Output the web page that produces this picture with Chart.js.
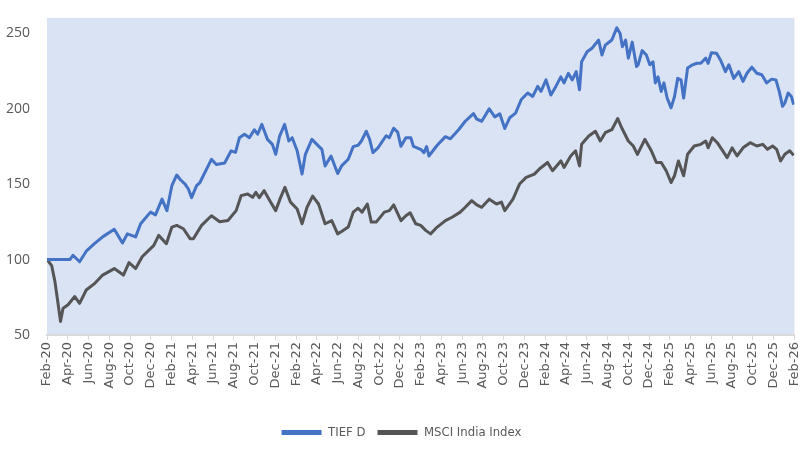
<!DOCTYPE html>
<html>
<head>
<meta charset="utf-8">
<script src="https://cdn.jsdelivr.net/npm/chart.js@4.4.1/dist/chart.umd.min.js"></script>
<style>
  html, body { margin: 0; padding: 0; background: #ffffff; }
  #wrap { width: 812px; height: 449px; }
</style>
</head>
<body>
<div id="wrap"><canvas id="perfChart" width="812" height="449"></canvas></div>
<script>
// x positions are months since Feb-20
const tickLabels = [
  "Feb-20", "Apr-20", "Jun-20", "Aug-20", "Oct-20", "Dec-20",
  "Feb-21", "Apr-21", "Jun-21", "Aug-21", "Oct-21", "Dec-21",
  "Feb-22", "Apr-22", "Jun-22", "Aug-22", "Oct-22", "Dec-22",
  "Feb-23", "Apr-23", "Jun-23", "Aug-23", "Oct-23", "Dec-23",
  "Feb-24", "Apr-24", "Jun-24", "Aug-24", "Oct-24", "Dec-24",
  "Feb-25", "Apr-25", "Jun-25", "Aug-25", "Oct-25", "Dec-25",
  "Feb-26"
];
const yTicks = [50, 100, 150, 200, 250];

const tiefMonths = [
  0, 1.24, 2.2, 2.5, 3.14, 3.78, 4.57, 5.36, 6.48, 7.27, 7.74, 8.54, 9.02, 9.97, 10.45, 11.08,
  11.55, 12.03, 12.5, 12.83, 13.3, 13.62, 13.93, 14.41, 14.73, 15.84, 16.31, 17.11, 17.74, 18.16,
  18.54, 19.02, 19.5, 19.97, 20.29, 20.7, 21.24, 21.71, 22.03, 22.41, 22.89, 23.3, 23.62, 24.1,
  24.57, 24.89, 25.52, 26.0, 26.48, 26.79, 27.36, 28.0, 28.38, 29.02, 29.5, 29.97, 30.29, 30.76,
  31.08, 31.4, 31.88, 32.67, 32.98, 33.4, 33.78, 34.1, 34.57, 35.05, 35.3, 36.0, 36.31, 36.57,
  36.79, 37.59, 38.38, 38.86, 39.65, 40.29, 41.08, 41.4, 41.88, 42.6, 43.14, 43.62, 44.1, 44.57,
  45.14, 45.69, 46.31, 46.79, 47.27, 47.59, 48.07, 48.54, 49.02, 49.5, 49.81, 50.22, 50.6, 50.98,
  51.3, 51.5, 52.03, 52.5, 53.14, 53.46, 53.78, 54.41, 54.89, 55.21, 55.43, 55.74, 56.0, 56.38,
  56.79, 56.95, 57.33, 57.74, 58.07, 58.38, 58.6, 58.86, 59.17, 59.43, 59.74, 60.12, 60.45, 60.76,
  61.08, 61.33, 61.71, 62.19, 62.6, 62.98, 63.46, 63.69, 64.0, 64.5, 64.89, 65.36, 65.69, 66.16,
  66.64, 67.05, 67.43, 67.9, 68.38, 68.86, 69.33, 69.81, 70.22, 70.54, 70.86, 71.08, 71.4, 71.71,
  71.93
];
const tiefValues = [
  100, 100, 100, 102.8, 98.5, 105.5, 110.5, 115, 120, 111, 117, 115, 123.7, 131.4, 129.6, 140,
  132.4, 149, 156, 153, 150, 146.7, 141, 149, 151, 166.4, 163, 164, 172, 171,
  180.7, 183, 180.7, 186, 183, 189.5, 179.6, 176.3, 169.7, 181.8, 189.5, 178.5, 180.7, 172,
  156.6, 169.7, 179.6, 176.3, 173, 162, 168.6, 157, 162, 166.4, 174.8, 175.7, 178.5, 185,
  179.6, 170.8, 174, 182, 180.7, 187, 184.4, 175, 180.7, 180.7, 175, 173, 170.8, 174.8,
  168.6, 175.7, 181.4, 180, 186, 191.6, 196.7, 193, 191.6, 199.8, 194.5, 196.5, 186.8, 193.9,
  197, 206, 210.3, 208, 214.7, 211.4, 219, 209, 214.7, 221, 217, 223.4, 219, 224.5,
  212.5, 231, 237.6, 240, 245.4, 235.5, 242, 245.4, 253.5, 249.8, 241, 245.4, 233.4, 244,
  227.8, 229, 238.4, 235.5, 229, 231, 217, 221, 211.4, 217, 207, 200.5, 208, 220,
  219, 207, 226.8, 229, 230, 230, 233.4, 230, 237, 236.6, 232, 224.5, 229, 220,
  224.5, 218, 223.4, 227.4, 223.4, 222.4, 217, 219.5, 219, 211.4, 201.5, 203.7, 210.3, 208,
  202.6
];

const msciMonths = [
  0, 0.45, 0.76, 1.08, 1.3, 1.55, 2.03, 2.67, 3.14, 3.78, 4.57, 5.36, 6.48, 7.36, 7.9, 8.54,
  9.17, 10.29, 10.76, 11.5, 12.03, 12.5, 13.14, 13.78, 14.1, 14.89, 15.84, 16.64, 17.43, 18.22,
  18.7, 19.33, 19.81, 20.12, 20.45, 20.92, 21.55, 22.03, 22.5, 22.92, 23.46, 24.1, 24.57, 25.05,
  25.59, 26.16, 26.79, 27.43, 28.0, 28.38, 29.02, 29.5, 29.97, 30.35, 30.86, 31.24, 31.71, 32.5,
  32.98, 33.4, 34.1, 34.57, 34.98, 35.52, 36.0, 36.48, 36.95, 37.59, 38.38, 39.02, 39.81, 40.29,
  40.92, 41.4, 41.88, 42.6, 43.3, 43.78, 44.1, 44.89, 45.52, 46.16, 46.95, 47.43, 48.22, 48.7,
  49.5, 49.81, 50.45, 50.92, 51.3, 51.5, 52.19, 52.83, 53.3, 53.78, 54.41, 54.98, 55.36, 56.0,
  56.48, 56.88, 57.59, 58.22, 58.7, 59.17, 59.65, 60.12, 60.45, 60.83, 61.33, 61.71, 62.35, 62.98,
  63.46, 63.69, 64.1, 64.57, 65.21, 65.52, 66.0, 66.48, 67.05, 67.74, 68.38, 68.95, 69.4, 69.9,
  70.29, 70.67, 71.08, 71.55, 71.93
];
const msciValues = [
  100, 96, 85.5, 70, 59, 67.8, 70, 75.5, 71, 79.8, 84, 89.7, 94, 89.7, 98, 94,
  101.8, 109.4, 116, 110.5, 121.5, 122.6, 120.4, 113.8, 113.8, 122.6, 129, 125, 125.8, 132.4,
  142.3, 143.4, 141.2, 144.5, 141, 145.6, 138, 132.4, 141, 147.8, 138, 133.5, 123.7, 134.6,
  142, 136.8, 123.7, 125.8, 117, 118.6, 121.5, 131.4, 134, 131.4, 136.8, 124.8, 124.8, 131.4,
  132.4, 136.2, 125.8, 129, 131, 123.7, 122.6, 119.3, 117, 121.5, 125.8, 128, 131.4, 134.6,
  139, 136.2, 134.6, 140, 136.8, 138, 132.4, 140, 150, 154.4, 156.6, 160, 164.3, 158.8,
  165.3, 161, 168.6, 172, 162, 176.3, 181.8, 185, 178.5, 184, 186, 193.4, 187.3, 178.5,
  175.2, 169.7, 179.6, 172, 164.3, 164.3, 158.8, 151, 155.5, 165.3, 155.5, 169.7, 175.2, 176.3,
  178.5, 174, 180.7, 177.4, 170.8, 167.5, 174, 168.6, 174, 177.4, 175.2, 176.3, 173, 175.2,
  173, 165.3, 169.7, 172, 169
];

const toPoints = (months, values) => months.map((m, i) => ({ x: m, y: values[i] }));

// light blue plot area like the original
const plotBackground = {
  id: "plotBackground",
  beforeDraw(chart) {
    const { ctx, chartArea } = chart;
    ctx.save();
    ctx.fillStyle = "#dae3f3";
    ctx.fillRect(chartArea.left, chartArea.top, chartArea.right - chartArea.left, chartArea.bottom - chartArea.top);
    ctx.restore();
  }
};

const ctx = document.getElementById("perfChart").getContext("2d");
new Chart(ctx, {
  type: "line",
  data: {
    datasets: [
      {
        label: "TIEF D",
        data: toPoints(tiefMonths, tiefValues),
        borderColor: "#4472c4",
        backgroundColor: "#4472c4",
        borderWidth: 3,
        pointRadius: 0,
        tension: 0,
        borderJoinStyle: "round"
      },
      {
        label: "MSCI India Index",
        data: toPoints(msciMonths, msciValues),
        borderColor: "#555555",
        backgroundColor: "#555555",
        borderWidth: 3,
        pointRadius: 0,
        tension: 0,
        borderJoinStyle: "round"
      }
    ]
  },
  options: {
    responsive: false,
    animation: false,
    layout: { padding: { top: 18, right: 9, left: 0, bottom: 0 } },
    plugins: {
      tooltip: { enabled: false },
      legend: {
        position: "bottom",
        labels: {
          boxWidth: 40,
          boxHeight: 5,
          padding: 12,
          color: "#595959",
          font: { family: "'DejaVu Sans Condensed', 'DejaVu Sans', sans-serif", size: 13 },
          generateLabels(chart) {
            return Chart.defaults.plugins.legend.labels.generateLabels(chart).map(l => ({ ...l, lineWidth: 0 }));
          }
        }
      }
    },
    scales: {
      x: {
        type: "linear",
        min: 0,
        max: (tickLabels.length - 1) * 2,
        afterBuildTicks(scale) {
          scale.ticks = tickLabels.map((_, i) => ({ value: i * 2 }));
        },
        afterFit(scale) { scale.height = 79; },
        grid: { drawOnChartArea: false, drawTicks: true, tickLength: 5, color: "#d9d9d9", lineWidth: 1 },
        border: { display: true, color: "#d9d9d9", width: 2 },
        ticks: {
          autoSkip: false,
          minRotation: 90,
          maxRotation: 90,
          padding: 2,
          color: "#595959",
          font: { family: "'DejaVu Sans', sans-serif", size: 13 },
          callback: (value) => tickLabels[Math.round(value / 2)]
        }
      },
      y: {
        min: 50,
        max: 260,
        afterBuildTicks(scale) {
          scale.ticks = yTicks.map(v => ({ value: v }));
        },
        afterFit(scale) { scale.width = 47; },
        grid: { display: false },
        border: { display: false },
        ticks: {
          padding: 9,
          color: "#595959",
          font: { family: "'Open Sans', sans-serif", size: 14 }
        }
      }
    }
  },
  plugins: [plotBackground]
});
</script>
</body>
</html>
